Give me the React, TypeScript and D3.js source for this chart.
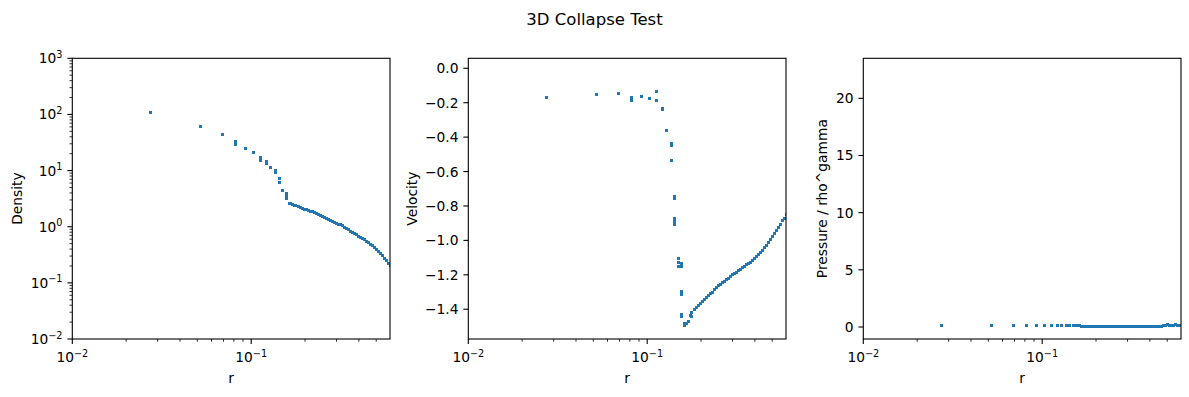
import React from 'react';
import * as d3 from 'd3';

// figure text
const title = '3D Collapse Test';
const xLabel = 'r';
const yLabels = ['Density', 'Velocity', 'Pressure / rho^gamma'];

// inner (sparse) particles, read per panel
const densityR = [0.0273, 0.0519, 0.0689, 0.0814, 0.0814, 0.0925, 0.1026, 0.1122, 0.1122, 0.1213, 0.1213,
  0.1277, 0.1362, 0.1362, 0.1433, 0.1433, 0.149, 0.157, 0.157, 0.157, 0.163];
const densityVal = [108, 61, 43.9, 32.7, 29.2, 24.7, 21, 16.9, 15.2, 14.4, 13.3,
  11.2, 9.96, 9.18, 7.08, 6.09, 4.48, 3.88, 3.5, 3.16, 2.63];

const velocityR = [0.0272, 0.0519, 0.0689, 0.0814, 0.0814, 0.0925, 0.1026, 0.1122, 0.1122, 0.1213, 0.1213,
  0.1277, 0.1362, 0.1362, 0.1362, 0.142, 0.142, 0.142, 0.142, 0.142, 0.150, 0.150, 0.150,
  0.156, 0.156, 0.156, 0.156, 0.156, 0.156, 0.161, 0.161, 0.178];
const velocityVal = [-0.168, -0.151, -0.145, -0.170, -0.187, -0.165, -0.178, -0.136, -0.189, -0.232, -0.241,
  -0.363, -0.437, -0.447, -0.534, -0.747, -0.758, -0.874, -0.888, -0.906, -1.107, -1.126, -1.150,
  -1.132, -1.152, -1.297, -1.314, -1.429, -1.444, -1.481, -1.496, -1.444];

const pressureR = [0.0272, 0.0519, 0.0689, 0.0814, 0.0925, 0.1026, 0.1122, 0.1213, 0.1277, 0.1362,
  0.142, 0.149, 0.153, 0.157, 0.161];
const pressureVal = [0.09, 0.09, 0.09, 0.09, 0.09, 0.15, 0.15, 0.15, 0.15, 0.15,
  0.15, 0.15, 0.15, 0.15, 0.15];

// outer (dense) particles, shared radii
const rOuter = [0.165, 0.170, 0.174, 0.178, 0.183, 0.188, 0.193, 0.198, 0.203, 0.208, 0.214, 0.219, 0.225,
  0.231, 0.237, 0.243, 0.249, 0.256, 0.262, 0.269, 0.276, 0.284, 0.291, 0.299, 0.306, 0.314, 0.322,
  0.331, 0.339, 0.348, 0.357, 0.367, 0.376, 0.386, 0.396, 0.406, 0.417, 0.428, 0.439, 0.450, 0.462,
  0.474, 0.487, 0.499, 0.512, 0.526, 0.539, 0.553, 0.568, 0.583, 0.598];
const densityOuter = [2.59, 2.50, 2.42, 2.34, 2.25, 2.18, 2.12, 2.06, 2.00, 1.94, 1.89, 1.83, 1.77,
  1.71, 1.66, 1.60, 1.54, 1.47, 1.41, 1.35, 1.29, 1.24, 1.19, 1.15, 1.11, 1.08, 1.04,
  0.988, 0.937, 0.884, 0.838, 0.795, 0.754, 0.718, 0.683, 0.650, 0.619, 0.585, 0.550, 0.517, 0.486,
  0.454, 0.423, 0.393, 0.364, 0.334, 0.305, 0.276, 0.248, 0.223, 0.201];
const velocityOuter = [-1.483, -1.474, -1.436, -1.419, -1.402, -1.388, -1.378, -1.364, -1.353, -1.341, -1.329,
  -1.320, -1.310, -1.300, -1.288, -1.274, -1.265, -1.256, -1.246, -1.237, -1.228, -1.219, -1.210,
  -1.201, -1.193, -1.184, -1.175, -1.167, -1.158, -1.150, -1.143, -1.135, -1.127, -1.116, -1.106,
  -1.095, -1.084, -1.073, -1.058, -1.044, -1.030, -1.012, -0.994, -0.977, -0.959, -0.941, -0.923,
  -0.905, -0.887, -0.870, -0.852];
const pressureOuter = [0.07, 0.07, 0.07, 0.07, 0.07, 0.07, 0.07, 0.07, 0.07, 0.07, 0.07, 0.07, 0.07,
  0.07, 0.07, 0.07, 0.07, 0.07, 0.07, 0.07, 0.07, 0.07, 0.07, 0.07, 0.07, 0.07, 0.07,
  0.07, 0.07, 0.07, 0.07, 0.07, 0.07, 0.07, 0.07, 0.07, 0.07, 0.07, 0.07, 0.07, 0.07,
  0.17, 0.12, 0.18, 0.10, 0.16, 0.13, 0.19, 0.11, 0.15, 0.17];

// axes ticks
const velocityTicks = [0, -0.2, -0.4, -0.6, -0.8, -1.0, -1.2, -1.4];
const pressureTicks = [0, 5, 10, 15, 20];

const W = 1189, H = 397;
const top = 58.3, bottom = 339;
const lefts = [72.3, 468.3, 863.3];
const axW = 317.7;
const blue = '#1f77b4';
const font = '"DejaVu Sans", sans-serif';
const fs = 13.8;
const supFs = 9.7;

function LogLabel({x, y, v, anchor})
{
    const e = Math.round(Math.log10(v));
    const exp = e < 0 ? '\u2212' + Math.abs(e) : String(e);
    return (
        <text x={x} y={y} textAnchor={anchor} fontSize={fs}>
            10<tspan dy={-5.5} fontSize={supFs}>{exp}</tspan>
        </text>
    );
}

function Panel({i, yScale, isLog, yTicks, xs, ys, label, labelX})
{
    const left = lefts[i];
    const x = d3.scaleLog().domain([0.01, 0.597]).range([left, left + axW]);
    const xt = x.ticks();
    const major = (v) => Math.abs(Math.log10(v) - Math.round(Math.log10(v))) < 1e-6;
    const fmt = d3.format('.1f');

    let yt = yTicks;
    let yMinor = [];
    if (isLog)
    {
        const all = yScale.ticks();
        yt = all.filter(major);
        yMinor = all.filter(v => !major(v));
    }

    const clipId = 'clip' + i;

    return (
        <g>
            <clipPath id={clipId}>
                <rect x={left} y={top} width={axW} height={bottom - top}/>
            </clipPath>
            <g clipPath={`url(#${clipId})`} fill={blue} shapeRendering="crispEdges">
                {xs.map((r, j) =>
                    <rect key={j} x={Math.round(x(r) - 1.5)} y={Math.round(yScale(ys[j]) - 1.5)} width={3} height={3}/>
                )}
            </g>
            <rect x={left} y={top} width={axW} height={bottom - top} fill="none" stroke="#000" strokeWidth={1.1}/>
            {/* x ticks */}
            <g stroke="#000" strokeWidth={1}>
                {xt.map((v, j) =>
                    <line key={j} x1={x(v)} x2={x(v)} y1={bottom} y2={bottom + (major(v) ? 4.9 : 2.8)}
                          strokeWidth={major(v) ? 1.1 : 0.8}/>
                )}
                {yt.map((v, j) =>
                    <line key={'y' + j} x1={left - 4.9} x2={left} y1={yScale(v)} y2={yScale(v)} strokeWidth={1.1}/>
                )}
                {yMinor.map((v, j) =>
                    <line key={'m' + j} x1={left - 2.8} x2={left} y1={yScale(v)} y2={yScale(v)} strokeWidth={0.8}/>
                )}
            </g>
            {xt.filter(major).map((v, j) =>
                <LogLabel key={j} x={x(v)} y={362} v={v} anchor="middle"/>
            )}
            {yt.map((v, j) => isLog
                ? <LogLabel key={j} x={left - 9.8} y={yScale(v) + 5} v={v} anchor="end"/>
                : <text key={j} x={left - 9.8} y={yScale(v) + 5} textAnchor="end" fontSize={fs}>
                    {i === 1 ? fmt(v) : String(v)}
                </text>
            )}
            <text x={left + axW / 2} y={383} textAnchor="middle" fontSize={fs}>{xLabel}</text>
            <text transform={`translate(${labelX},${(top + bottom) / 2}) rotate(-90)`} textAnchor="middle" fontSize={fs}>{label}</text>
        </g>
    );
}

export default function App()
{
    const yDensity = d3.scaleLog().domain([0.01, 1000]).range([bottom, top]);
    const yVelocity = d3.scaleLinear().domain([-1.573, 0.058]).range([bottom, top]);
    const yPressure = d3.scaleLinear().domain([-1.05, 23.5]).range([bottom, top]);

    return (
        <svg width={W} height={H} style={{position: 'absolute', left: 0, top: 0, background: '#fff'}}
             fontFamily={font} fill="#000">
            <rect width={W} height={H} fill="#fff"/>
            <text x={594.5} y={25} textAnchor="middle" fontSize={16.5}>{title}</text>
            <Panel i={0} yScale={yDensity} isLog={true}
                   xs={densityR.concat(rOuter)} ys={densityVal.concat(densityOuter)}
                   label={yLabels[0]} labelX={21.5}/>
            <Panel i={1} yScale={yVelocity} isLog={false} yTicks={velocityTicks}
                   xs={velocityR.concat(rOuter)} ys={velocityVal.concat(velocityOuter)}
                   label={yLabels[1]} labelX={416.5}/>
            <Panel i={2} yScale={yPressure} isLog={false} yTicks={pressureTicks}
                   xs={pressureR.concat(rOuter)} ys={pressureVal.concat(pressureOuter)}
                   label={yLabels[2]} labelX={827}/>
        </svg>
    );
}
